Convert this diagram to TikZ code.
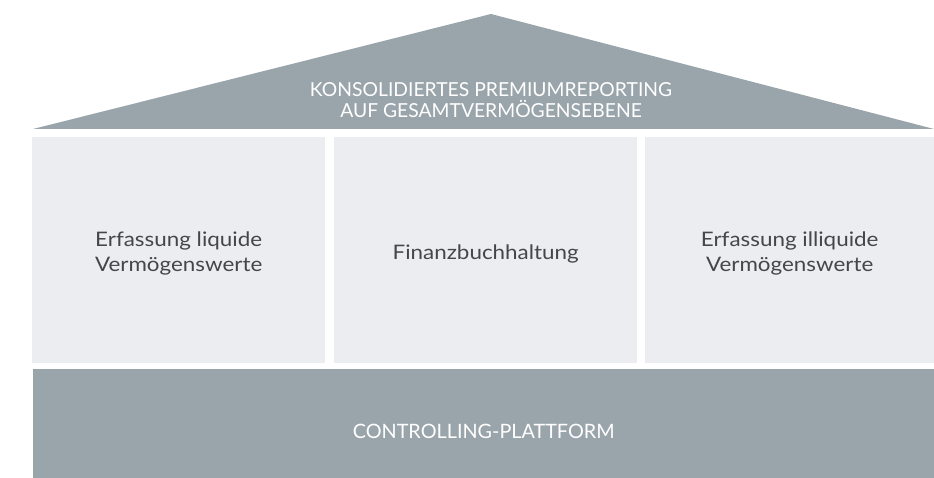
\documentclass[tikz,border=0pt]{standalone}
\usepackage{fontspec}
\setmainfont{Lato}
\newfontfamily\pillarfont[FakeStretch=1.12]{Lato}
\usepackage{tikz}
\usetikzlibrary{positioning}

\definecolor{roofgray}{HTML}{9AA5AB}
\definecolor{pillar}{HTML}{ECEDF1}
\definecolor{pillartext}{HTML}{444648}

\tikzset{
  pillarbox/.style={fill=pillar, minimum height=226pt, inner sep=0pt, anchor=south west},
  pillarlabel/.style={align=center, inner sep=0pt, text=pillartext,
    font=\pillarfont\fontsize{20}{25}\selectfont},
  captext/.style={text=white, align=center, inner sep=0pt}
}

\begin{document}
\begin{tikzpicture}[x=1pt, y=1pt]
    \useasboundingbox (0,0) rectangle (934,478);

    % Roof
    \fill[roofgray] (33,349) -- (491,464) -- (934,349) -- cycle;
    \node[captext, font=\fontsize{19.3}{21}\selectfont] (roof) at (491,378)
      {KONSOLIDIERTES PREMIUMREPORTING\\AUF GESAMTVERMÖGENSEBENE};

    % Pillars
    \foreach \name/\x/\w/\txt in {liquid/32/293/{Erfassung liquide\\Vermögenswerte},
                                  fibu/334/303/{Finanzbuchhaltung},
                                  illiquid/645/289/{Erfassung illiquide\\Vermögenswerte}} {
      \node[pillarbox, minimum width=\w pt] (\name) at (\x,115) {};
      \node[pillarlabel] (\name-text) at ([yshift=-4pt]\name.center) {\txt};
    }

    % Base
    \node[fill=roofgray, minimum width=901pt, minimum height=109pt, inner sep=0pt, anchor=south west] (base) at (33,0) {};
    \node[captext, font=\fontsize{19.8}{22}\selectfont] (platform) at ([yshift=-8pt]base.center) {CONTROLLING-PLATTFORM};
\end{tikzpicture}
\end{document}
